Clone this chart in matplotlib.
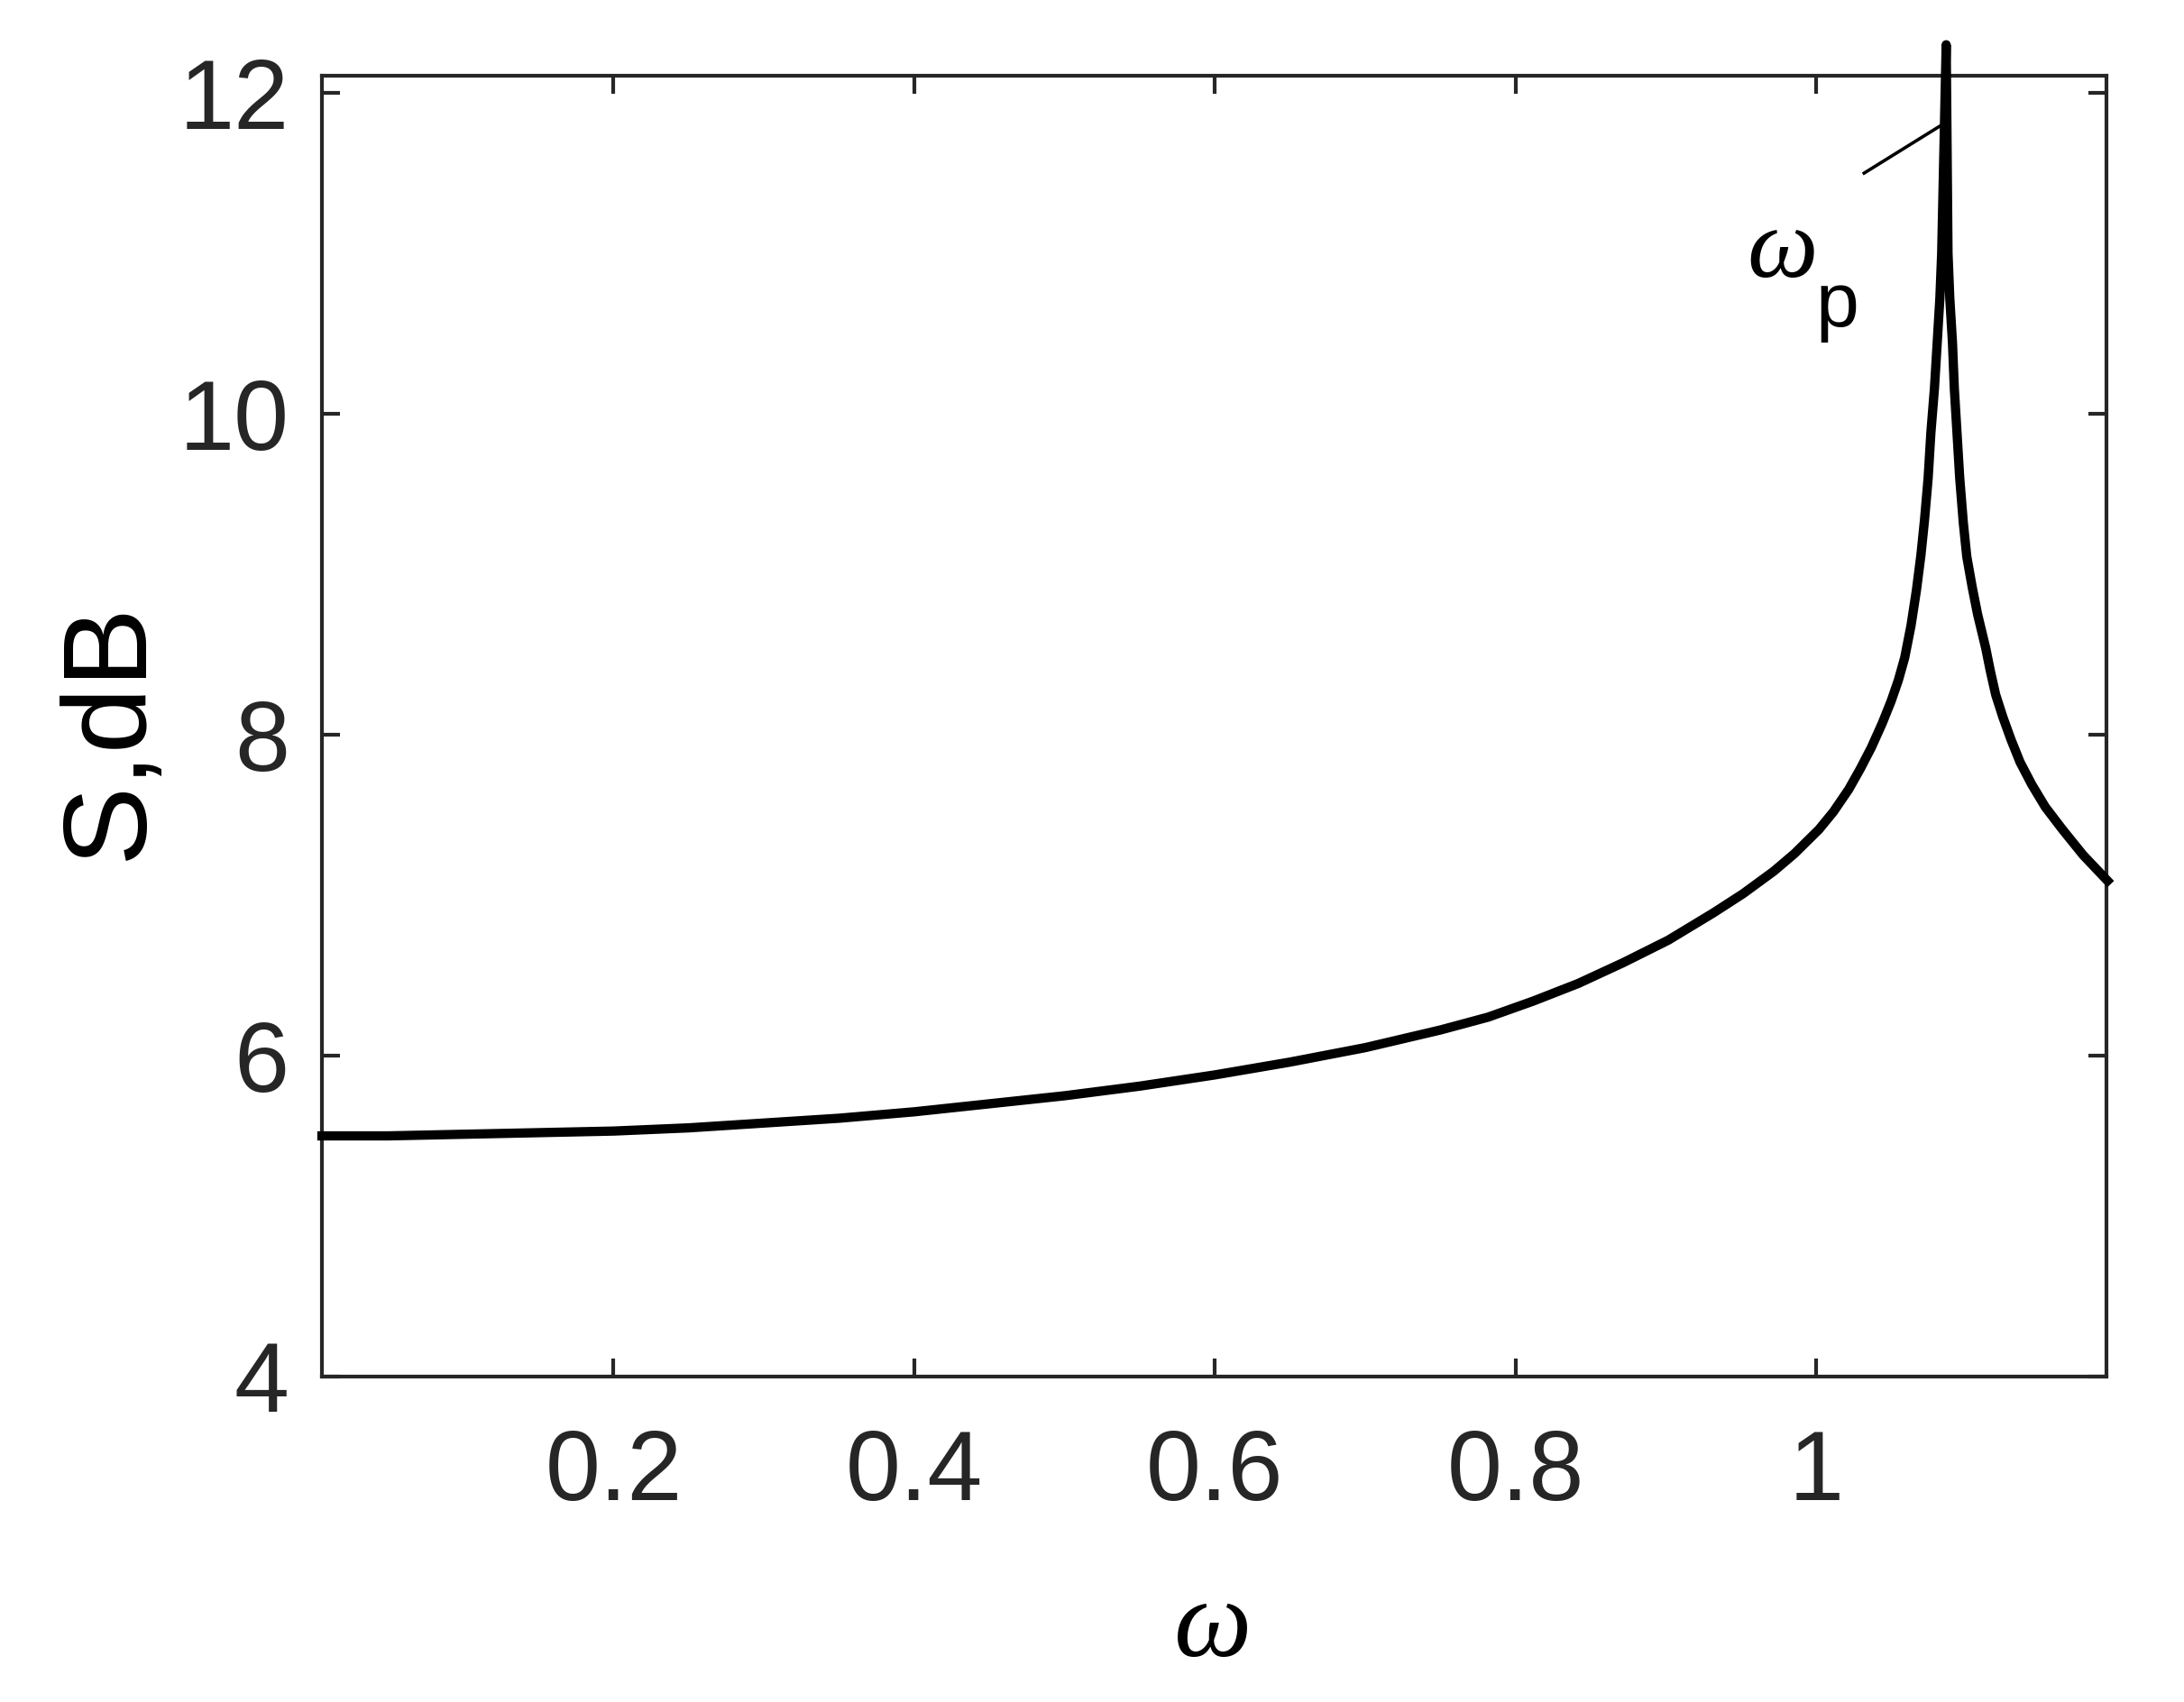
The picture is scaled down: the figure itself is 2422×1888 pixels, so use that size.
import matplotlib
matplotlib.use("Agg")
import matplotlib.pyplot as plt

# ---- data ----
omega = [0.006, 0.05, 0.1, 0.15, 0.2, 0.25, 0.3, 0.35, 0.4, 0.45, 0.5, 0.55, 0.6, 0.65,
         0.7, 0.75, 0.7817, 0.8117, 0.8417, 0.8717, 0.9016, 0.9316, 0.9514, 0.9718,
         0.9856, 1.0018, 1.0114, 1.0216, 1.0294, 1.0366, 1.0438, 1.0498, 1.0546,
         1.0588, 1.063, 1.0666, 1.0696, 1.072, 1.0744, 1.0762, 1.0786, 1.0804,
         1.0822, 1.0834, 1.0864,
         1.0876, 1.0888, 1.0906, 1.0918, 1.0936, 1.0954, 1.0978, 1.1001, 1.1037,
         1.1073, 1.1127, 1.1157, 1.1193, 1.1241, 1.1295, 1.1355, 1.1433, 1.1523,
         1.1637, 1.1775, 1.1937]
S_dB = [5.50, 5.50, 5.51, 5.52, 5.53, 5.55, 5.58, 5.61, 5.65, 5.70, 5.75, 5.81, 5.88, 5.96,
        6.05, 6.16, 6.24, 6.34, 6.45, 6.58, 6.72, 6.89, 7.01, 7.15,
        7.26, 7.41, 7.52, 7.66, 7.79, 7.92, 8.07, 8.21, 8.34,
        8.48, 8.68, 8.90, 9.12, 9.34, 9.60, 9.88, 10.16, 10.44,
        10.72, 11.0, 12.3,
        11.0, 10.72, 10.44, 10.16, 9.88, 9.60, 9.32, 9.11, 8.92,
        8.75, 8.54, 8.40, 8.25, 8.11, 7.97, 7.83, 7.69, 7.55,
        7.41, 7.25, 7.09]
xticks = [0.2, 0.4, 0.6, 0.8, 1.0]
xticklabels = ["0.2", "0.4", "0.6", "0.8", "1"]
yticks = [4, 6, 8, 10, 12]
yticklabels = ["4", "6", "8", "10", "12"]
ann_x = [1.0318, 1.0834]
ann_y = [11.50, 11.80]

W, H, DPI = 2422, 1888, 100
fig = plt.figure(figsize=(W / DPI, H / DPI), dpi=DPI)
ax = fig.add_axes([357 / W, 1 - 1527 / H, (2336 - 357) / W, (1527 - 84) / H])

ax.plot(omega, S_dB, color="black", lw=7.4, solid_joinstyle="round", clip_on=False, zorder=3)
ax.plot(ann_x, ann_y, color="black", lw=2.6, clip_on=False, zorder=3)

ax.set_xlim(0.006, 1.193)
ax.set_ylim(4, 12.107)

axc = "#262626"
for s in ax.spines.values():
    s.set_linewidth(3.0)
    s.set_color(axc)

ax.set_xticks(xticks)
ax.set_xticklabels(xticklabels)
ax.set_yticks(yticks)
ax.set_yticklabels(yticklabels)
ax.tick_params(direction="in", length=14.5, width=3.0, color=axc,
               top=True, right=True, labelsize=79, labelcolor=axc)
ax.tick_params(axis="x", pad=42)
ax.tick_params(axis="y", pad=26)
for lab in ax.get_xticklabels() + ax.get_yticklabels():
    lab.set_fontfamily("Liberation Sans")

# y label
fig.text(157 / W, 1 - 811 / H, "S,dB", rotation=90, rotation_mode="anchor",
         ha="center", va="baseline", fontsize=95, family="Liberation Sans", color="black")
# x label
fig.text(1345 / W, 1 - 1837 / H, "ω", ha="center", va="baseline", fontsize=88,
         family="Liberation Serif", style="italic", color="black")
# annotation omega_p
fig.text(1977 / W, 1 - 307 / H, "ω", ha="center", va="baseline", fontsize=80,
         family="Liberation Serif", style="italic", color="black")
fig.text(2037 / W, 1 - 362 / H, "p", ha="center", va="baseline", fontsize=62,
         family="Liberation Sans", color="black")

fig.savefig("out.png", dpi=DPI, facecolor="white")
